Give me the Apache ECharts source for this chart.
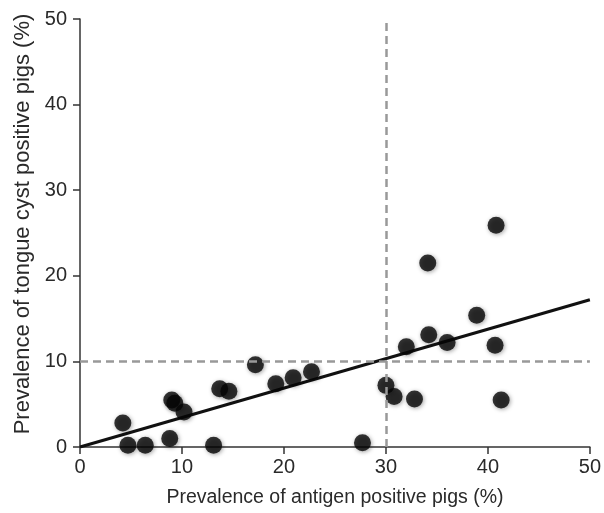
<!DOCTYPE html>
<html>
<head>
<meta charset="utf-8">
<script src="https://cdn.jsdelivr.net/npm/echarts@6/dist/echarts.min.js"></script>
<style>
  html, body { margin: 0; padding: 0; background: #fff; }
  #main { width: 604px; height: 513px; }
</style>
</head>
<body>
<div id="main"></div>
<script>
// prevalence values (%)
var antigen = [4.2, 4.7, 6.4, 8.8, 9.0, 9.3, 10.2, 13.1, 13.7, 14.6, 17.2, 19.2, 20.9, 22.7,
               27.7, 30.0, 30.8, 32.0, 32.8, 34.1, 34.2, 36.0, 38.9, 40.7, 40.8, 41.3];
var tongueCyst = [2.8, 0.2, 0.2, 1.0, 5.5, 5.1, 4.1, 0.2, 6.8, 6.5, 9.6, 7.4, 8.1, 8.8,
                  0.5, 7.2, 5.9, 11.7, 5.6, 21.5, 13.1, 12.2, 15.4, 11.9, 25.9, 5.5];
// regression line end points
var fitX = [0, 50];
var fitY = [0, 17.2];
// cut-off reference lines
var antigenCutoff = 30;
var cystCutoff = 10;

var points = [];
for (var i = 0; i < antigen.length; ++i) {
    points.push([antigen[i], tongueCyst[i]]);
}
var fit = [];
for (var j = 0; j < fitX.length; ++j) {
    fit.push([fitX[j], fitY[j]]);
}

var myChart = echarts.init(document.getElementById('main'));

var font = 'Liberation Sans, Arial, sans-serif';
var dashStyle = { color: '#999', width: 2.5, type: [8, 5] };

var option = {
    animation: false,
    grid: { left: 80, right: 14, top: 19, bottom: 64 },
    xAxis: {
        type: 'value',
        min: 0, max: 50, interval: 10,
        name: 'Prevalence of antigen positive pigs (%)',
        nameLocation: 'middle',
        nameGap: 41,
        nameTextStyle: { color: '#2a2a2a', fontSize: 19.5, fontFamily: font },
        axisLine: { lineStyle: { color: '#333', width: 1.5 } },
        axisTick: { length: 7, lineStyle: { color: '#333', width: 1.5 } },
        axisLabel: { margin: 10, color: '#2a2a2a', fontSize: 20, fontFamily: font },
        splitLine: { show: false }
    },
    yAxis: {
        type: 'value',
        min: 0, max: 50, interval: 10,
        name: 'Prevalence of tongue cyst positive pigs (%)',
        nameLocation: 'middle',
        nameGap: 45,
        // small left padding nudges the rotated title upward, as in the figure
        nameTextStyle: { color: '#2a2a2a', fontSize: 22, fontFamily: font, padding: [0, 0, 0, 18] },
        axisLine: { show: true, lineStyle: { color: '#333', width: 1.5 } },
        axisTick: { show: true, length: 7, lineStyle: { color: '#333', width: 1.5 } },
        axisLabel: { margin: 13, color: '#2a2a2a', fontSize: 20, fontFamily: font },
        splitLine: { show: false }
    },
    series: [
        {
            type: 'line',
            data: fit,
            symbol: 'none',
            lineStyle: { color: '#111', width: 3 },
            z: 3,
            markLine: {
                silent: true,
                symbol: 'none',
                label: { show: false },
                lineStyle: dashStyle,
                data: [
                    { xAxis: antigenCutoff },
                    { yAxis: cystCutoff }
                ]
            }
        },
        {
            type: 'scatter',
            data: points,
            symbolSize: 17,
            itemStyle: {
                color: '#050505',
                shadowBlur: 4,
                shadowColor: 'rgba(0,0,0,0.45)',
                shadowOffsetX: 1,
                shadowOffsetY: 1
            },
            z: 4
        }
    ]
};

myChart.setOption(option);
</script>
</body>
</html>
